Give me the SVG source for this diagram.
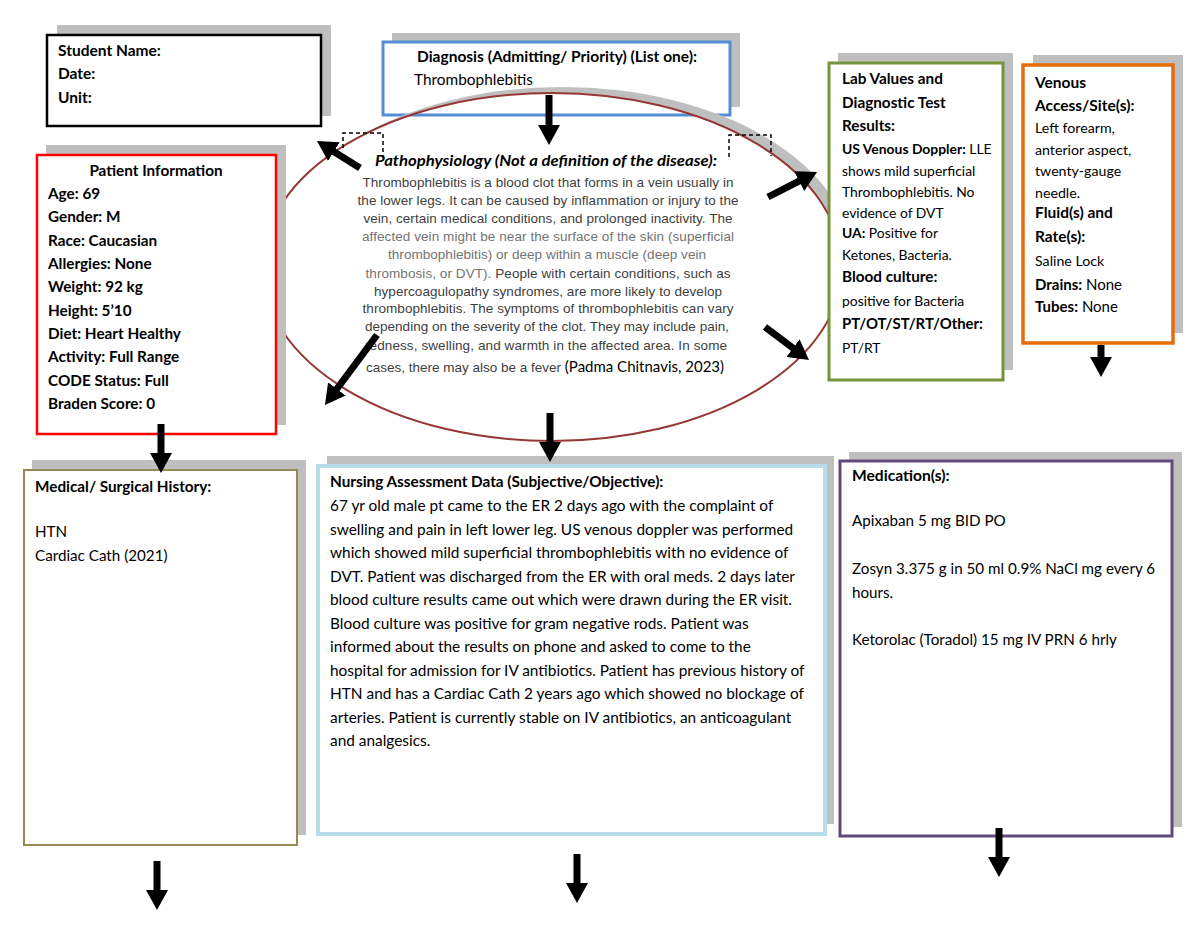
<svg xmlns="http://www.w3.org/2000/svg" width="1200" height="927" viewBox="0 0 1200 927">
<style>
.sh{fill:#bfbfbf}
.t{font-family:Lato,"Open Sans","Liberation Sans",sans-serif;fill:#000}
.b{font-weight:700}
.a{font-family:"Liberation Sans",Arial,sans-serif;font-size:13.5px;fill:#404040;text-anchor:middle}
.as{font-family:"Liberation Sans",Arial,sans-serif;font-size:13.5px;fill:#404040;text-anchor:start}
.lt{fill:#737373}
.arr{stroke:#000;stroke-width:7;fill:none;marker-end:url(#ah)}
.dash{fill:none;stroke:#000;stroke-width:1.5;stroke-dasharray:4 3}
</style>
<defs>
<marker id="ah" markerUnits="userSpaceOnUse" viewBox="0 0 20 22" markerWidth="20" markerHeight="22" refX="2" refY="11" orient="auto">
<path d="M0,0 L20,11 L0,22 Z" fill="#000"/>
</marker>
<mask id="ringmask" maskUnits="userSpaceOnUse" x="0" y="0" width="1200" height="927">
<rect x="0" y="0" width="1200" height="300" fill="#fff"/>
<ellipse cx="552" cy="267" rx="290" ry="174" fill="#000"/>
</mask>
</defs>
<rect width="1200" height="927" fill="#fff"/>

<g id="node-student">
<rect class="sh" x="57" y="25" width="274" height="91"/>
<rect x="47" y="35" width="274" height="91" fill="#fff" stroke="#000" stroke-width="2.5"/>
<text class="t b" font-size="15.5" x="58" y="56">Student Name:</text>
<text class="t b" font-size="15.5" x="58" y="79">Date:</text>
<text class="t b" font-size="15.5" x="58" y="103">Unit:</text>
</g>

<g id="node-diagnosis">
<rect class="sh" x="392" y="33" width="348" height="74"/>
<rect x="383" y="42" width="347" height="73" fill="#fff" stroke="#558ed5" stroke-width="3"/>
<text class="t b" font-size="15.5" x="557" y="62" text-anchor="middle">Diagnosis (Admitting/ Priority) (List one):</text>
<text class="t" font-size="15.4" x="414" y="85">Thrombophlebitis</text>
</g>

<g id="node-patho">
<ellipse cx="562" cy="261" rx="290" ry="174" class="sh" mask="url(#ringmask)"/>
<ellipse cx="552" cy="267" rx="290" ry="174" fill="none" stroke="#953735" stroke-width="2"/>
<path class="dash" d="M343,148 V133 H383 V158"/>
<path class="dash" d="M729,157 V135 H771 V156"/>
<text class="t b" font-size="15.5" font-style="italic" x="546" y="166" text-anchor="middle" textLength="342" lengthAdjust="spacingAndGlyphs">Pathophysiology (Not a definition of the disease):</text>
<text class="a" x="548" y="186.5" textLength="371">Thrombophlebitis is a blood clot that forms in a vein usually in</text>
<text class="a" x="548" y="204.5" textLength="381">the lower legs. It can be caused by inflammation or injury to the</text>
<text class="a" x="548" y="222.5" textLength="369">vein, certain medical conditions, and prolonged inactivity. The</text>
<text class="a lt" x="548" y="241" textLength="372">affected vein might be near the surface of the skin (superficial</text>
<text class="a lt" x="547" y="259" textLength="318">thrombophlebitis) or deep within a muscle (deep vein</text>
<text class="a" x="548" y="277.5" textLength="365"><tspan class="lt">thrombosis, or DVT).</tspan> People with certain conditions, such as</text>
<text class="a" x="548" y="295.5" textLength="348">hypercoagulopathy syndromes, are more likely to develop</text>
<text class="a" x="548" y="313" textLength="371">thrombophlebitis. The symptoms of thrombophlebitis can vary</text>
<text class="a" x="547" y="331" textLength="364">depending on the severity of the clot. They may include pain,</text>
<text class="a" x="546" y="349.5" textLength="362">redness, swelling, and warmth in the affected area. In some</text>
<text class="as" x="366" y="371.5">cases, there may also be a fever <tspan font-family="Lato,'Open Sans',sans-serif" font-size="15" fill="#000">(Padma Chitnavis, 2023)</tspan></text>
</g>

<g id="node-patient">
<rect class="sh" x="46" y="145" width="240" height="280"/>
<rect x="37" y="155" width="239" height="279" fill="#fff" stroke="#ff0000" stroke-width="2.5"/>
<text class="t b" font-size="15.3" x="156" y="176" text-anchor="middle">Patient Information</text>
<text class="t b" font-size="15.3" x="48" y="199">Age: 69</text>
<text class="t b" font-size="15.3" x="48" y="222">Gender: M</text>
<text class="t b" font-size="15.3" x="48" y="246">Race: Caucasian</text>
<text class="t b" font-size="15.3" x="48" y="269">Allergies: None</text>
<text class="t b" font-size="15.3" x="48" y="292">Weight: 92 kg</text>
<text class="t b" font-size="15.3" x="48" y="316">Height: 5’10</text>
<text class="t b" font-size="15.3" x="48" y="339">Diet: Heart Healthy</text>
<text class="t b" font-size="15.3" x="48" y="362">Activity: Full Range</text>
<text class="t b" font-size="15.3" x="48" y="386">CODE Status: Full</text>
<text class="t b" font-size="15.3" x="48" y="409">Braden Score: 0</text>
</g>

<g id="node-lab">
<rect class="sh" x="838" y="53" width="175" height="317"/>
<rect x="829" y="63" width="174" height="317" fill="#fff" stroke="#77933c" stroke-width="3"/>
<text class="t b" font-size="15.3" x="842" y="84">Lab Values and</text>
<text class="t b" font-size="15.3" x="842" y="108">Diagnostic Test</text>
<text class="t b" font-size="15.3" x="842" y="131">Results:</text>
<text class="t" font-size="13.9" x="842" y="154"><tspan font-weight="700">US Venous Doppler:</tspan> LLE</text>
<text class="t" font-size="13.9" x="842" y="176">shows mild superficial</text>
<text class="t" font-size="13.9" x="842" y="197">Thrombophlebitis. No</text>
<text class="t" font-size="13.9" x="842" y="218">evidence of DVT</text>
<text class="t" font-size="13.9" x="842" y="238"><tspan font-weight="700">UA:</tspan> Positive for</text>
<text class="t" font-size="13.9" x="842" y="260">Ketones, Bacteria.</text>
<text class="t b" font-size="15.3" x="842" y="282">Blood culture:</text>
<text class="t" font-size="13.9" x="842" y="306">positive for Bacteria</text>
<text class="t b" font-size="14.9" x="842" y="329">PT/OT/ST/RT/Other:</text>
<text class="t" font-size="13.9" x="842" y="353">PT/RT</text>
</g>

<g id="node-venous">
<rect class="sh" x="1033" y="55" width="150" height="278"/>
<rect x="1023" y="65" width="150" height="278" fill="#fff" stroke="#e46c0a" stroke-width="3.5"/>
<text class="t b" font-size="15.5" x="1035" y="88">Venous</text>
<text class="t b" font-size="15.5" x="1035" y="111">Access/Site(s):</text>
<text class="t" font-size="14.2" x="1035" y="133">Left forearm,</text>
<text class="t" font-size="14.2" x="1035" y="155">anterior aspect,</text>
<text class="t" font-size="14.2" x="1035" y="176">twenty-gauge</text>
<text class="t" font-size="14.2" x="1035" y="198">needle.</text>
<text class="t b" font-size="15.5" x="1035" y="218">Fluid(s) and</text>
<text class="t b" font-size="15.5" x="1035" y="242">Rate(s):</text>
<text class="t" font-size="14.2" x="1035" y="266">Saline Lock</text>
<text class="t" font-size="15" x="1035" y="290"><tspan font-weight="700">Drains:</tspan> None</text>
<text class="t" font-size="15" x="1035" y="312"><tspan font-weight="700">Tubes:</tspan> None</text>
</g>

<g id="node-history">
<rect class="sh" x="32" y="460" width="274" height="375"/>
<rect x="24" y="470" width="273" height="375" fill="#fff" stroke="#948a54" stroke-width="2"/>
<text class="t b" font-size="15.3" x="35" y="492">Medical/ Surgical History:</text>
<text class="t" font-size="15.2" x="35" y="537">HTN</text>
<text class="t" font-size="15.2" x="35" y="561">Cardiac Cath (2021)</text>
</g>

<g id="node-nursing">
<rect class="sh" x="327" y="456" width="507" height="368"/>
<rect x="318" y="466" width="507" height="368" fill="#fff" stroke="#b7dee8" stroke-width="4"/>
<text class="t b" font-size="15.3" x="330" y="487">Nursing Assessment Data (Subjective/Objective):</text>
<text class="t" font-size="15.4" x="330" y="511">67 yr old male pt came to the ER 2 days ago with the complaint of</text>
<text class="t" font-size="15.4" x="330" y="534.5">swelling and pain in left lower leg. US venous doppler was performed</text>
<text class="t" font-size="15.4" x="330" y="558">which showed mild superficial thrombophlebitis with no evidence of</text>
<text class="t" font-size="15.4" x="330" y="581.5">DVT. Patient was discharged from the ER with oral meds. 2 days later</text>
<text class="t" font-size="15.4" x="330" y="605">blood culture results came out which were drawn during the ER visit.</text>
<text class="t" font-size="15.4" x="330" y="628.5">Blood culture was positive for gram negative rods. Patient was</text>
<text class="t" font-size="15.4" x="330" y="652">informed about the results on phone and asked to come to the</text>
<text class="t" font-size="15.4" x="330" y="675.5">hospital for admission for IV antibiotics. Patient has previous history of</text>
<text class="t" font-size="15.4" x="330" y="699">HTN and has a Cardiac Cath 2 years ago which showed no blockage of</text>
<text class="t" font-size="15.4" x="330" y="722.5">arteries. Patient is currently stable on IV antibiotics, an anticoagulant</text>
<text class="t" font-size="15.4" x="330" y="746">and analgesics.</text>
</g>

<g id="node-medication">
<rect class="sh" x="849" y="452" width="333" height="375"/>
<rect x="840" y="461" width="332" height="375" fill="#fff" stroke="#604a7b" stroke-width="3"/>
<text class="t b" font-size="15.6" x="852" y="481">Medication(s):</text>
<text class="t" font-size="15.2" x="852" y="526">Apixaban 5 mg BID PO</text>
<text class="t" font-size="15.2" x="852" y="574">Zosyn 3.375 g in 50 ml 0.9% NaCl mg every 6</text>
<text class="t" font-size="15.2" x="852" y="598">hours.</text>
<text class="t" font-size="15.2" x="852" y="645">Ketorolac (Toradol) 15 mg IV PRN 6 hrly</text>
</g>

<g id="connectors">
<line class="arr" x1="549" y1="95" x2="549" y2="127"/>
<line class="arr" x1="360" y1="168" x2="332.2" y2="150.6"/>
<line class="arr" x1="768" y1="197" x2="801" y2="180.2"/>
<line class="arr" x1="765" y1="327" x2="794.6" y2="349.2"/>
<line class="arr" x1="377" y1="335" x2="335.7" y2="390.5"/>
<line class="arr" x1="550" y1="413" x2="550" y2="444"/>
<line class="arr" x1="161" y1="424" x2="161" y2="455"/>
<line class="arr" x1="1101" y1="345" x2="1101" y2="359"/>
<line class="arr" x1="157" y1="861" x2="157" y2="892"/>
<line class="arr" x1="577" y1="854" x2="577" y2="885"/>
<line class="arr" x1="999" y1="828" x2="999" y2="859"/>
</g>
</svg>
